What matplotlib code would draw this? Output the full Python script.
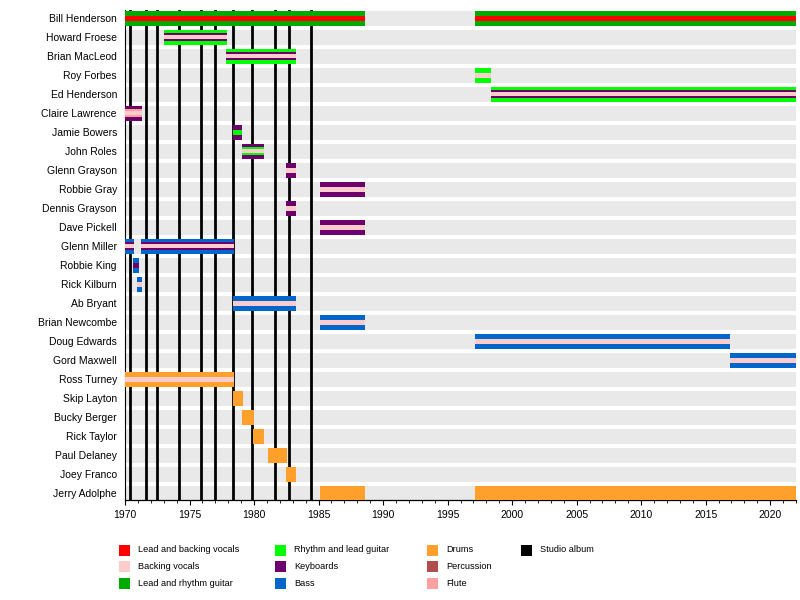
import matplotlib
matplotlib.use("Agg")
import matplotlib.pyplot as plt
from matplotlib.patches import Rectangle
import matplotlib.ticker as mticker

plt.rcParams['font.family'] = ['Liberation Sans', 'DejaVu Sans']

# ---------------- data ----------------
members = ["Bill Henderson", "Howard Froese", "Brian MacLeod", "Roy Forbes",
           "Ed Henderson", "Claire Lawrence", "Jamie Bowers", "John Roles",
           "Glenn Grayson", "Robbie Gray", "Dennis Grayson", "Dave Pickell",
           "Glenn Miller", "Robbie King", "Rick Kilburn", "Ab Bryant",
           "Brian Newcombe", "Doug Edwards", "Gord Maxwell", "Ross Turney",
           "Skip Layton", "Bucky Berger", "Rick Taylor", "Paul Delaney",
           "Joey Franco", "Jerry Adolphe"]

role_names = ["Lead and backing vocals", "Backing vocals", "Lead and rhythm guitar",
              "Rhythm and lead guitar", "Keyboards", "Bass",
              "Drums", "Percussion", "Flute", "Studio album"]
role_colors = ["#FF0000", "#FFCCCC", "#00AA00",
               "#00FF00", "#6E006E", "#0066CC",
               "#FFA02C", "#AE4E4E", "#FFA0A0", "#000000"]

# (member, start, end, roles outer -> inner)
stints = [
    ("Bill Henderson", 1970.0, 1988.58, ["Lead and rhythm guitar", "Lead and backing vocals"]),
    ("Bill Henderson", 1997.1, 2022.0, ["Lead and rhythm guitar", "Lead and backing vocals"]),
    ("Howard Froese", 1973.0, 1977.88, ["Rhythm and lead guitar", "Keyboards", "Backing vocals"]),
    ("Brian MacLeod", 1977.8, 1983.23, ["Rhythm and lead guitar", "Keyboards", "Backing vocals"]),
    ("Roy Forbes", 1997.1, 1998.35, ["Rhythm and lead guitar", "Backing vocals"]),
    ("Ed Henderson", 1998.35, 2022.0, ["Rhythm and lead guitar", "Keyboards", "Backing vocals"]),
    ("Claire Lawrence", 1970.0, 1971.3, ["Keyboards", "Flute", "Backing vocals"]),
    ("Jamie Bowers", 1978.37, 1979.05, ["Keyboards", "Rhythm and lead guitar"]),
    ("John Roles", 1979.05, 1980.75, ["Keyboards", "Rhythm and lead guitar", "Backing vocals"]),
    ("Glenn Grayson", 1982.46, 1983.23, ["Keyboards", "Backing vocals"]),
    ("Robbie Gray", 1985.1, 1988.58, ["Keyboards", "Backing vocals"]),
    ("Dennis Grayson", 1982.46, 1983.23, ["Keyboards", "Backing vocals"]),
    ("Dave Pickell", 1985.1, 1988.58, ["Keyboards", "Backing vocals"]),
    ("Glenn Miller", 1970.0, 1970.67, ["Bass", "Keyboards", "Backing vocals"]),
    ("Glenn Miller", 1971.22, 1978.43, ["Bass", "Keyboards", "Backing vocals"]),
    ("Robbie King", 1970.6, 1971.05, ["Bass", "Keyboards"]),
    ("Rick Kilburn", 1970.96, 1971.29, ["Bass", "Backing vocals"]),
    ("Ab Bryant", 1978.37, 1983.23, ["Bass", "Backing vocals"]),
    ("Brian Newcombe", 1985.1, 1988.58, ["Bass", "Backing vocals"]),
    ("Doug Edwards", 1997.1, 2016.88, ["Bass", "Backing vocals"]),
    ("Gord Maxwell", 2016.88, 2022.0, ["Bass", "Backing vocals"]),
    ("Ross Turney", 1970.0, 1978.43, ["Drums", "Backing vocals"]),
    ("Skip Layton", 1978.37, 1979.12, ["Drums"]),
    ("Bucky Berger", 1979.07, 1979.98, ["Drums"]),
    ("Rick Taylor", 1979.92, 1980.75, ["Drums"]),
    ("Paul Delaney", 1981.09, 1982.53, ["Drums"]),
    ("Joey Franco", 1982.46, 1983.23, ["Drums"]),
    ("Jerry Adolphe", 1985.1, 1988.58, ["Drums"]),
    ("Jerry Adolphe", 1997.1, 2022.0, ["Drums"]),
]

albums = [1970.39, 1971.63, 1972.48, 1974.19, 1975.89, 1976.98,
          1978.37, 1979.84, 1981.63, 1982.71, 1984.42]

x_start, x_end = 1970, 2022

# ---------------- layout ----------------
W, H = 800, 600
row_px = 18.29
fig = plt.figure(figsize=(8, 6), dpi=100)
ax = fig.add_axes([125 / W, 100 / H, (796 - 125) / W, 490 / H])

color_of = dict(zip(role_names, role_colors))
nrows = len(members)
ypos = {m: i for i, m in enumerate(members)}

def px(h):
    return h / row_px

# background bands
ax.barh(range(nrows), [x_end - x_start] * nrows, left=x_start, height=px(14),
        color="#E9E9E9", zorder=1, linewidth=0)

# album lines
for a in albums:
    ax.axvline(a, color="black", linewidth=2.0, zorder=2)

# member bars
for m, s, e, roles in stints:
    if len(roles) == 3:
        hs = [14, 8, 4]
    elif len(roles) == 2:
        hs = [14, 5]
    else:
        hs = [14]
    for r, h in zip(roles, hs):
        ax.barh(ypos[m], e - s, left=s, height=px(h), color=color_of[r],
                zorder=3, linewidth=0)

ax.set_xlim(x_start, x_end)
ax.set_ylim(nrows - 1 + px(6.5), -px(8))
ax.set_yticks(range(nrows))
ax.set_yticklabels(members, fontsize=7.5)
ax.tick_params(axis="y", length=0, pad=5.8)
ax.xaxis.set_major_locator(mticker.MultipleLocator(5))
ax.xaxis.set_minor_locator(mticker.MultipleLocator(1))
ax.tick_params(axis="x", which="major", length=3.6, width=0.8, labelsize=7.5, pad=3.5)
ax.tick_params(axis="x", which="minor", length=2.2, width=0.6)
for sp in ["top", "right"]:
    ax.spines[sp].set_visible(False)
ax.spines["left"].set_linewidth(0.8)
ax.spines["bottom"].set_linewidth(0.9)

# legend (manual, column-major, 3 rows)
col_x = [119, 275, 427, 521]
row_y = [550, 566.7, 583.3]
sq = 11
for k, (name, col) in enumerate(zip(role_names, role_colors)):
    c, r = divmod(k, 3)
    x0 = col_x[c]
    yc = row_y[r]
    fig.patches.append(Rectangle((x0 / W, 1 - (yc + sq / 2) / H), sq / W, sq / H,
                                 transform=fig.transFigure, facecolor=col,
                                 edgecolor="none"))
    fig.text((x0 + 19) / W, 1 - yc / H, name, fontsize=6.6, va="center", ha="left")

fig.savefig("out.png", dpi=100)
